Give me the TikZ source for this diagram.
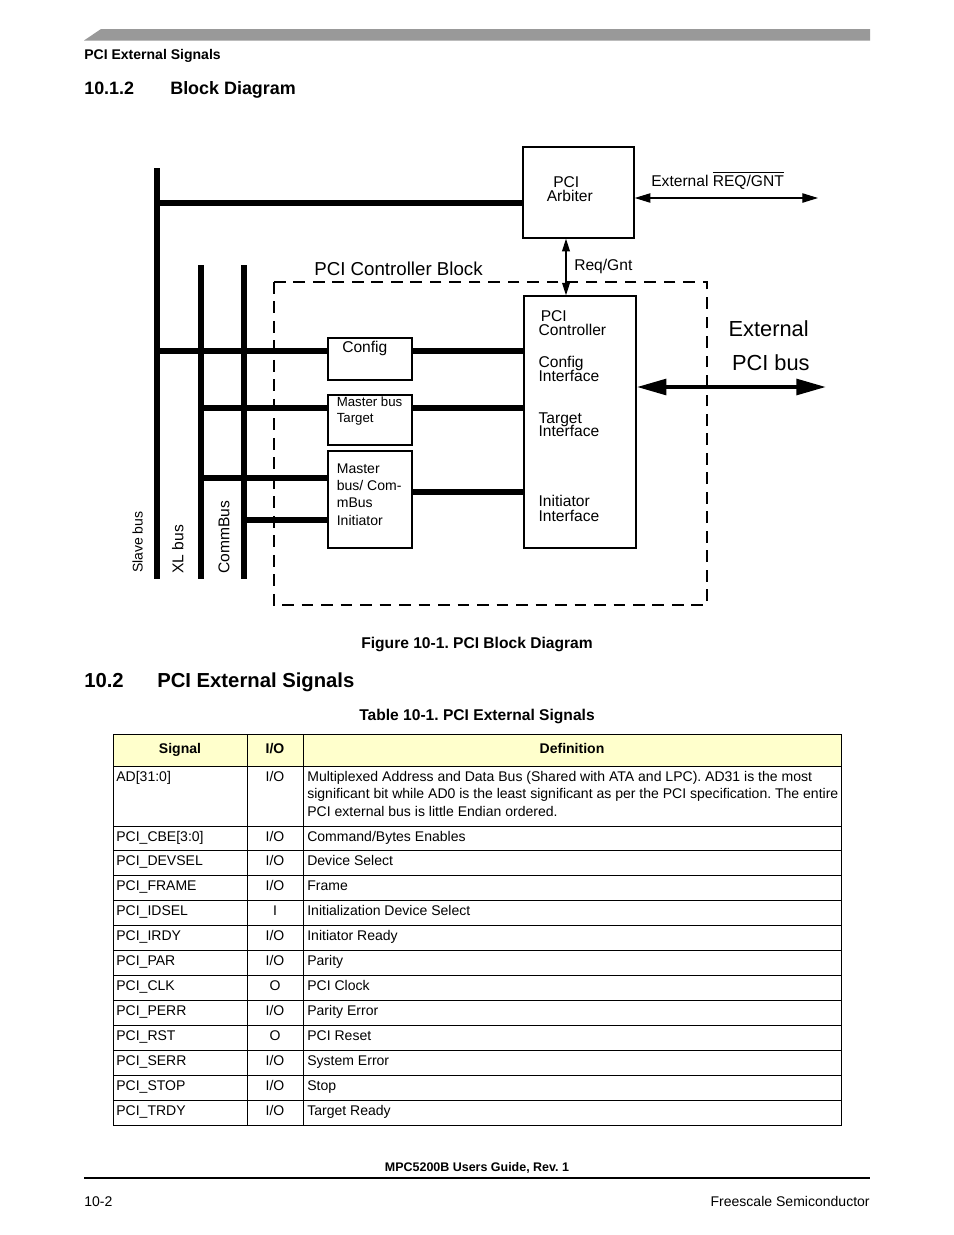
\documentclass[tikz,border=0pt]{standalone}
\usepackage{fontspec}
\setmainfont{Liberation Sans}
\usetikzlibrary{arrows.meta,fit}
\definecolor{bargray}{RGB}{153,153,153}
\definecolor{headfill}{RGB}{255,255,204}
\newcommand{\fsz}[1]{\fontsize{#1}{#1}\selectfont}
\frenchspacing
\begin{document}
\begin{tikzpicture}[x=0.6415pt,y=-0.6415pt,
  every node/.style={inner sep=0pt},
  lbl/.style={anchor=base west},
  bus/.style={line width=4pt},
  blk/.style={draw,line width=1pt,inner sep=0pt},
  grid/.style={line width=0.6pt}]
\useasboundingbox (0,0) rectangle (954,1235);
\fill[white] (0,0) rectangle (954,1235);
\fill[bargray] (84,40.5) -- (101,29) -- (870,29) -- (870,40.5) -- cycle;
\node[lbl,font=\bfseries\fsz{9}] (runhead) at (84,59) {PCI External Signals};
\node[lbl,font=\bfseries\fsz{11.5}] (secnum) at (84,94) {10.1.2};
\node[lbl,font=\bfseries\fsz{11.5}] (sectitle) at (170,94) {Block Diagram};
\coordinate (slave) at (157,168);
\coordinate (slaveend) at (157,579);
\coordinate (xl) at (201,265);
\coordinate (xlend) at (201,579);
\coordinate (comm) at (244,265);
\coordinate (commend) at (244,579);
\draw[bus] (slave) -- (slaveend);
\draw[bus] (xl) -- (xlend);
\draw[bus] (comm) -- (commend);
\node[blk,fit={(523,147) (634,238)}] (arb) {};
\node[lbl,font=\fsz{10}] (arbl1) at (553,187) {PCI};
\node[lbl,font=\fsz{10}] (arbl2) at (546.5,201) {Arbiter};
\coordinate (arbin) at (523,203);
\draw[bus] (slave |- arbin) -- (arbin);
\coordinate (extend) at (818,198);
\draw[line width=0.7pt,{Triangle[length=10pt,width=6pt]}-{Triangle[length=10pt,width=6pt]}] (arb.east |- extend) -- (extend);
\node[lbl,font=\fsz{10}] (extlbl) at (651,186) {External $\overline{\mbox{REQ/GNT}}$};
\draw[line width=1pt,dash pattern=on 7.5pt off 5pt] (274,282) rectangle (707,605);
\node[lbl,font=\fsz{12}] (blocklbl) at (314,275) {PCI Controller Block};
\node[blk,fit={(524,296) (636,548)}] (ctrl) {};
\coordinate (rg) at (566,265);
\draw[line width=0.7pt,{Triangle[length=8pt,width=5pt]}-{Triangle[length=8pt,width=5pt]}] (arb.south -| rg) -- (ctrl.north -| rg);
\node[lbl,font=\fsz{10}] (rglbl) at (574,270) {Req/Gnt};
\node[blk,fit={(328,338) (412,380)}] (cfg) {};
\node[blk,fit={(328,395) (412,445)}] (mbt) {};
\node[blk,fit={(328,451) (412,548)}] (mbi) {};
\node[lbl,font=\fsz{10}] (cfgl) at (342,352.7) {Config};
\node[lbl,font=\fsz{8.5}] (mbtl1) at (336.5,406) {Master bus};
\node[lbl,font=\fsz{8.5}] (mbtl2) at (336.5,422.7) {Target};
\node[lbl,font=\fsz{9}] (mbil1) at (336.5,473.3) {Master};
\node[lbl,font=\fsz{9}] (mbil2) at (336.5,490.7) {bus/ Com-};
\node[lbl,font=\fsz{9}] (mbil3) at (336.5,507.7) {mBus};
\node[lbl,font=\fsz{9}] (mbil4) at (336.5,525) {Initiator};
\node[lbl,font=\fsz{10}] (ctrll1) at (540.5,321.7) {PCI};
\node[lbl,font=\fsz{10}] (ctrll2) at (538.3,335) {Controller};
\node[lbl,font=\fsz{10}] (ctrll3) at (538.3,367.3) {Config};
\node[lbl,font=\fsz{10}] (ctrll4) at (538.3,381) {Interface};
\node[lbl,font=\fsz{10}] (ctrll5) at (538.3,423.3) {Target};
\node[lbl,font=\fsz{10}] (ctrll6) at (538.3,436.7) {Interface};
\node[lbl,font=\fsz{10}] (ctrll7) at (538.3,506.7) {Initiator};
\node[lbl,font=\fsz{10}] (ctrll8) at (538.3,521.7) {Interface};
\coordinate (c1) at (524,351);
\coordinate (c2) at (524,408);
\coordinate (c3) at (524,492);
\coordinate (x1) at (328,478);
\coordinate (x2) at (328,520);
\draw[bus] (slave |- c1) -- (cfg.west |- c1);
\draw[bus] (cfg.east |- c1) -- (ctrl.west |- c1);
\draw[bus] (xl |- c2) -- (mbt.west |- c2);
\draw[bus] (mbt.east |- c2) -- (ctrl.west |- c2);
\draw[bus] (xl |- x1) -- (mbi.west |- x1);
\draw[bus] (comm |- x2) -- (mbi.west |- x2);
\draw[bus] (mbi.east |- c3) -- (ctrl.west |- c3);
\node[lbl,rotate=90,font=\fsz{9}] (slavelbl) at (142.7,573.3) {Slave bus};
\node[lbl,rotate=90,font=\fsz{10}] (xllbl) at (183.3,574) {XL bus};
\node[lbl,rotate=90,font=\fsz{10}] (commlbl) at (229.3,574) {CommBus};
\coordinate (pcibus) at (826,387);
\draw[line width=2.6pt,{Triangle[length=19pt,width=10pt]}-{Triangle[length=19pt,width=10pt]}] (ctrl.east |- pcibus) -- (pcibus);
\node[lbl,font=\fsz{14}] (extpci1) at (728.3,336) {External};
\node[lbl,font=\fsz{14}] (extpci2) at (731.7,370) {PCI bus};
\node[anchor=base,font=\bfseries\fsz{10}] (figcap) at (477,648) {Figure 10-1. PCI Block Diagram};
\node[lbl,font=\bfseries\fsz{13}] (sec2num) at (84,687.5) {10.2};
\node[lbl,font=\bfseries\fsz{13}] (sec2title) at (157,687.5) {PCI External Signals};
\node[anchor=base,font=\bfseries\fsz{10}] (tabcap) at (477,720) {Table 10-1. PCI External Signals};
\fill[headfill] (113,734) rectangle (841,766);
\draw[grid] (113,734) rectangle (841,1125);
\draw[grid] (113,766) -- (841,766);
\draw[grid] (247,734) -- (247,1125);
\draw[grid] (303,734) -- (303,1125);
\foreach \i in {0,...,11}
  \draw[grid] (113,{826+\i*24.92}) -- (841,{826+\i*24.92});
\node[anchor=base,font=\bfseries\fsz{9}] (hsig) at (180,753) {Signal};
\node[anchor=base,font=\bfseries\fsz{9}] (hio) at (275,753) {I/O};
\node[anchor=base,font=\bfseries\fsz{9}] (hdef) at (572,753) {Definition};
\node[lbl,font=\fsz{9}] (sig0) at (116,781) {AD[31:0]};
\node[anchor=base,font=\fsz{9}] (io0) at (275,781) {I/O};
\node[lbl,font=\fsz{9}] (def0a) at (307,781) {Multiplexed Address and Data Bus (Shared with ATA and LPC). AD31 is the most};
\node[lbl,font=\fsz{9}] (def0b) at (307,798.5) {significant bit while AD0 is the least significant as per the PCI specification. The entire};
\node[lbl,font=\fsz{9}] (def0c) at (307,816) {PCI external bus is little Endian ordered.};
\foreach \sg/\io/\dsc [count=\i] in {
  {PCI\_CBE[3:0]}/{I/O}/{Command/Bytes Enables},
  {PCI\_DEVSEL}/{I/O}/{Device Select},
  {PCI\_FRAME}/{I/O}/{Frame},
  {PCI\_IDSEL}/{I}/{Initialization Device Select},
  {PCI\_IRDY}/{I/O}/{Initiator Ready},
  {PCI\_PAR}/{I/O}/{Parity},
  {PCI\_CLK}/{O}/{PCI Clock},
  {PCI\_PERR}/{I/O}/{Parity Error},
  {PCI\_RST}/{O}/{PCI Reset},
  {PCI\_SERR}/{I/O}/{System Error},
  {PCI\_STOP}/{I/O}/{Stop},
  {PCI\_TRDY}/{I/O}/{Target Ready}} {
  \node[lbl,font=\fsz{9}] (sig\i) at (116,{816.1+\i*24.92}) {\sg};
  \node[anchor=base,font=\fsz{9}] (io\i) at (275,{816.1+\i*24.92}) {\io};
  \node[lbl,font=\fsz{9}] (def\i) at (307,{816.1+\i*24.92}) {\dsc};
}
\node[anchor=base,font=\bfseries\fsz{8}] (foottitle) at (477,1171) {MPC5200B Users Guide, Rev. 1};
\draw[line width=0.7pt] (84,1178) -- (870,1178);
\node[lbl,font=\fsz{9}] (pagenum) at (84,1206) {10-2};
\node[anchor=base east,font=\fsz{9}] (company) at (870,1206) {Freescale Semiconductor};
\end{tikzpicture}
\end{document}
